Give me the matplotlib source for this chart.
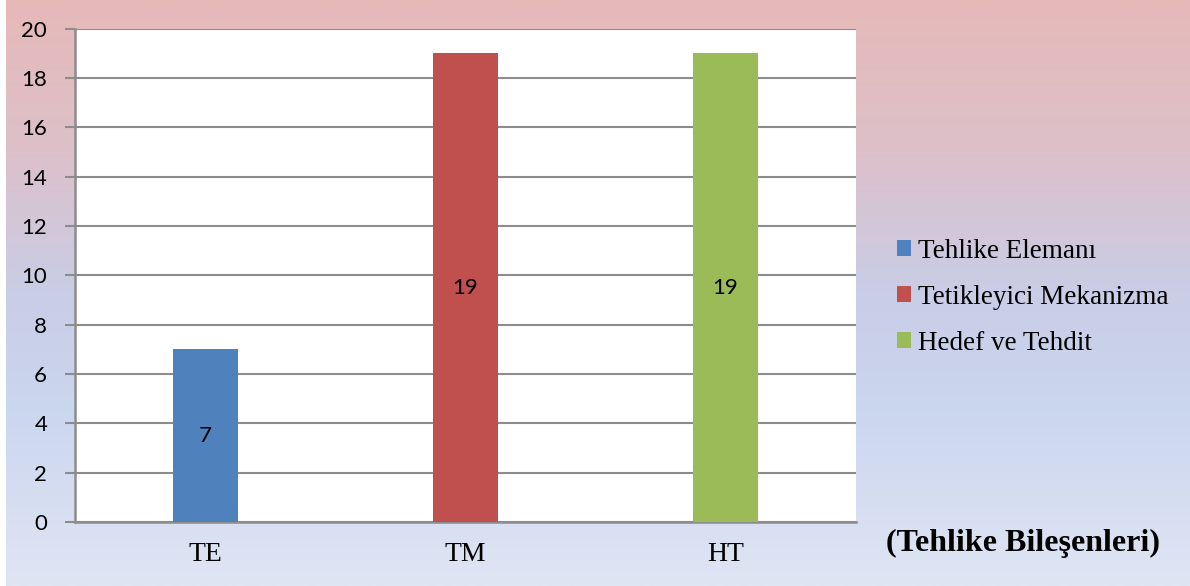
import matplotlib

matplotlib.use("Agg")
import matplotlib.pyplot as plt
import numpy as np
from matplotlib.colors import LinearSegmentedColormap

categories = ["TE", "TM", "HT"]
values = [7, 19, 19]
series_names = ["Tehlike Elemanı", "Tetikleyici Mekanizma", "Hedef ve Tehdit"]
bar_colors = ["#4F81BD", "#C0504D", "#9BBB59"]
y_ticks = list(range(0, 21, 2))

fig = plt.figure(figsize=(11.9, 5.86), dpi=100)

# vertical background wash: pink at the top fading to pale blue at the bottom
bg = fig.add_axes([0.005, 0, 0.995, 1], zorder=-10)
wash = LinearSegmentedColormap.from_list(
    "wash",
    [(0.0, "#E6B9B8"), (0.25, "#DDC0C9"), (0.5, "#C9CDE6"),
     (0.7, "#CBD6EF"), (1.0, "#DFE5F3")],
)
bg.imshow(np.linspace(0, 1, 256).reshape(-1, 1), aspect="auto", cmap=wash,
          extent=[0, 1, 0, 1], origin="upper")
bg.set_axis_off()

ax = fig.add_axes([0.063, 0.109, 0.656, 0.842])
ax.set_facecolor("white")

x = np.arange(len(categories))
bars = []
for i, (v, c) in enumerate(zip(values, bar_colors)):
    b = ax.bar(x[i], v, width=0.25, color=c, edgecolor="none", zorder=3,
               label=series_names[i])
    bars.append(b)
    ax.text(x[i], v / 2, str(v), ha="center", va="center", fontsize=16,
            family="Lato", color="black", zorder=4)

ax.set_xlim(-0.5, len(categories) - 0.5)
ax.set_ylim(0, 20)
ax.set_yticks(y_ticks)
ax.set_yticklabels([str(t) for t in y_ticks], family="Lato", fontsize=16)
ax.set_xticks(x)
ax.set_xticklabels(categories, family="Liberation Serif", fontsize=20)
ax.tick_params(axis="y", length=7, width=1.5, color="#8C8C8C", pad=13)
ax.tick_params(axis="x", length=0, pad=14)

ax.grid(axis="y", color="#8C8C8C", linewidth=1.5, zorder=0)
ax.set_axisbelow(True)
for side in ("top", "right"):
    ax.spines[side].set_visible(False)
for side in ("left", "bottom"):
    ax.spines[side].set_color("#8C8C8C")
    ax.spines[side].set_linewidth(1.8)

leg = fig.legend(handles=[b[0] for b in bars], labels=series_names,
                 loc="upper left", bbox_to_anchor=(0.754, 0.593),
                 frameon=False, borderpad=0, borderaxespad=0,
                 handlelength=0.5, handleheight=0.5,
                 handletextpad=0.25, labelspacing=0.78,
                 prop={"family": "Liberation Serif", "size": 19.5})

fig.text(0.860, 0.073, "(Tehlike Bileşenleri)", ha="center", va="center",
         family="Liberation Serif", fontweight="bold", fontsize=23)

fig.savefig("out.png", dpi=100)
